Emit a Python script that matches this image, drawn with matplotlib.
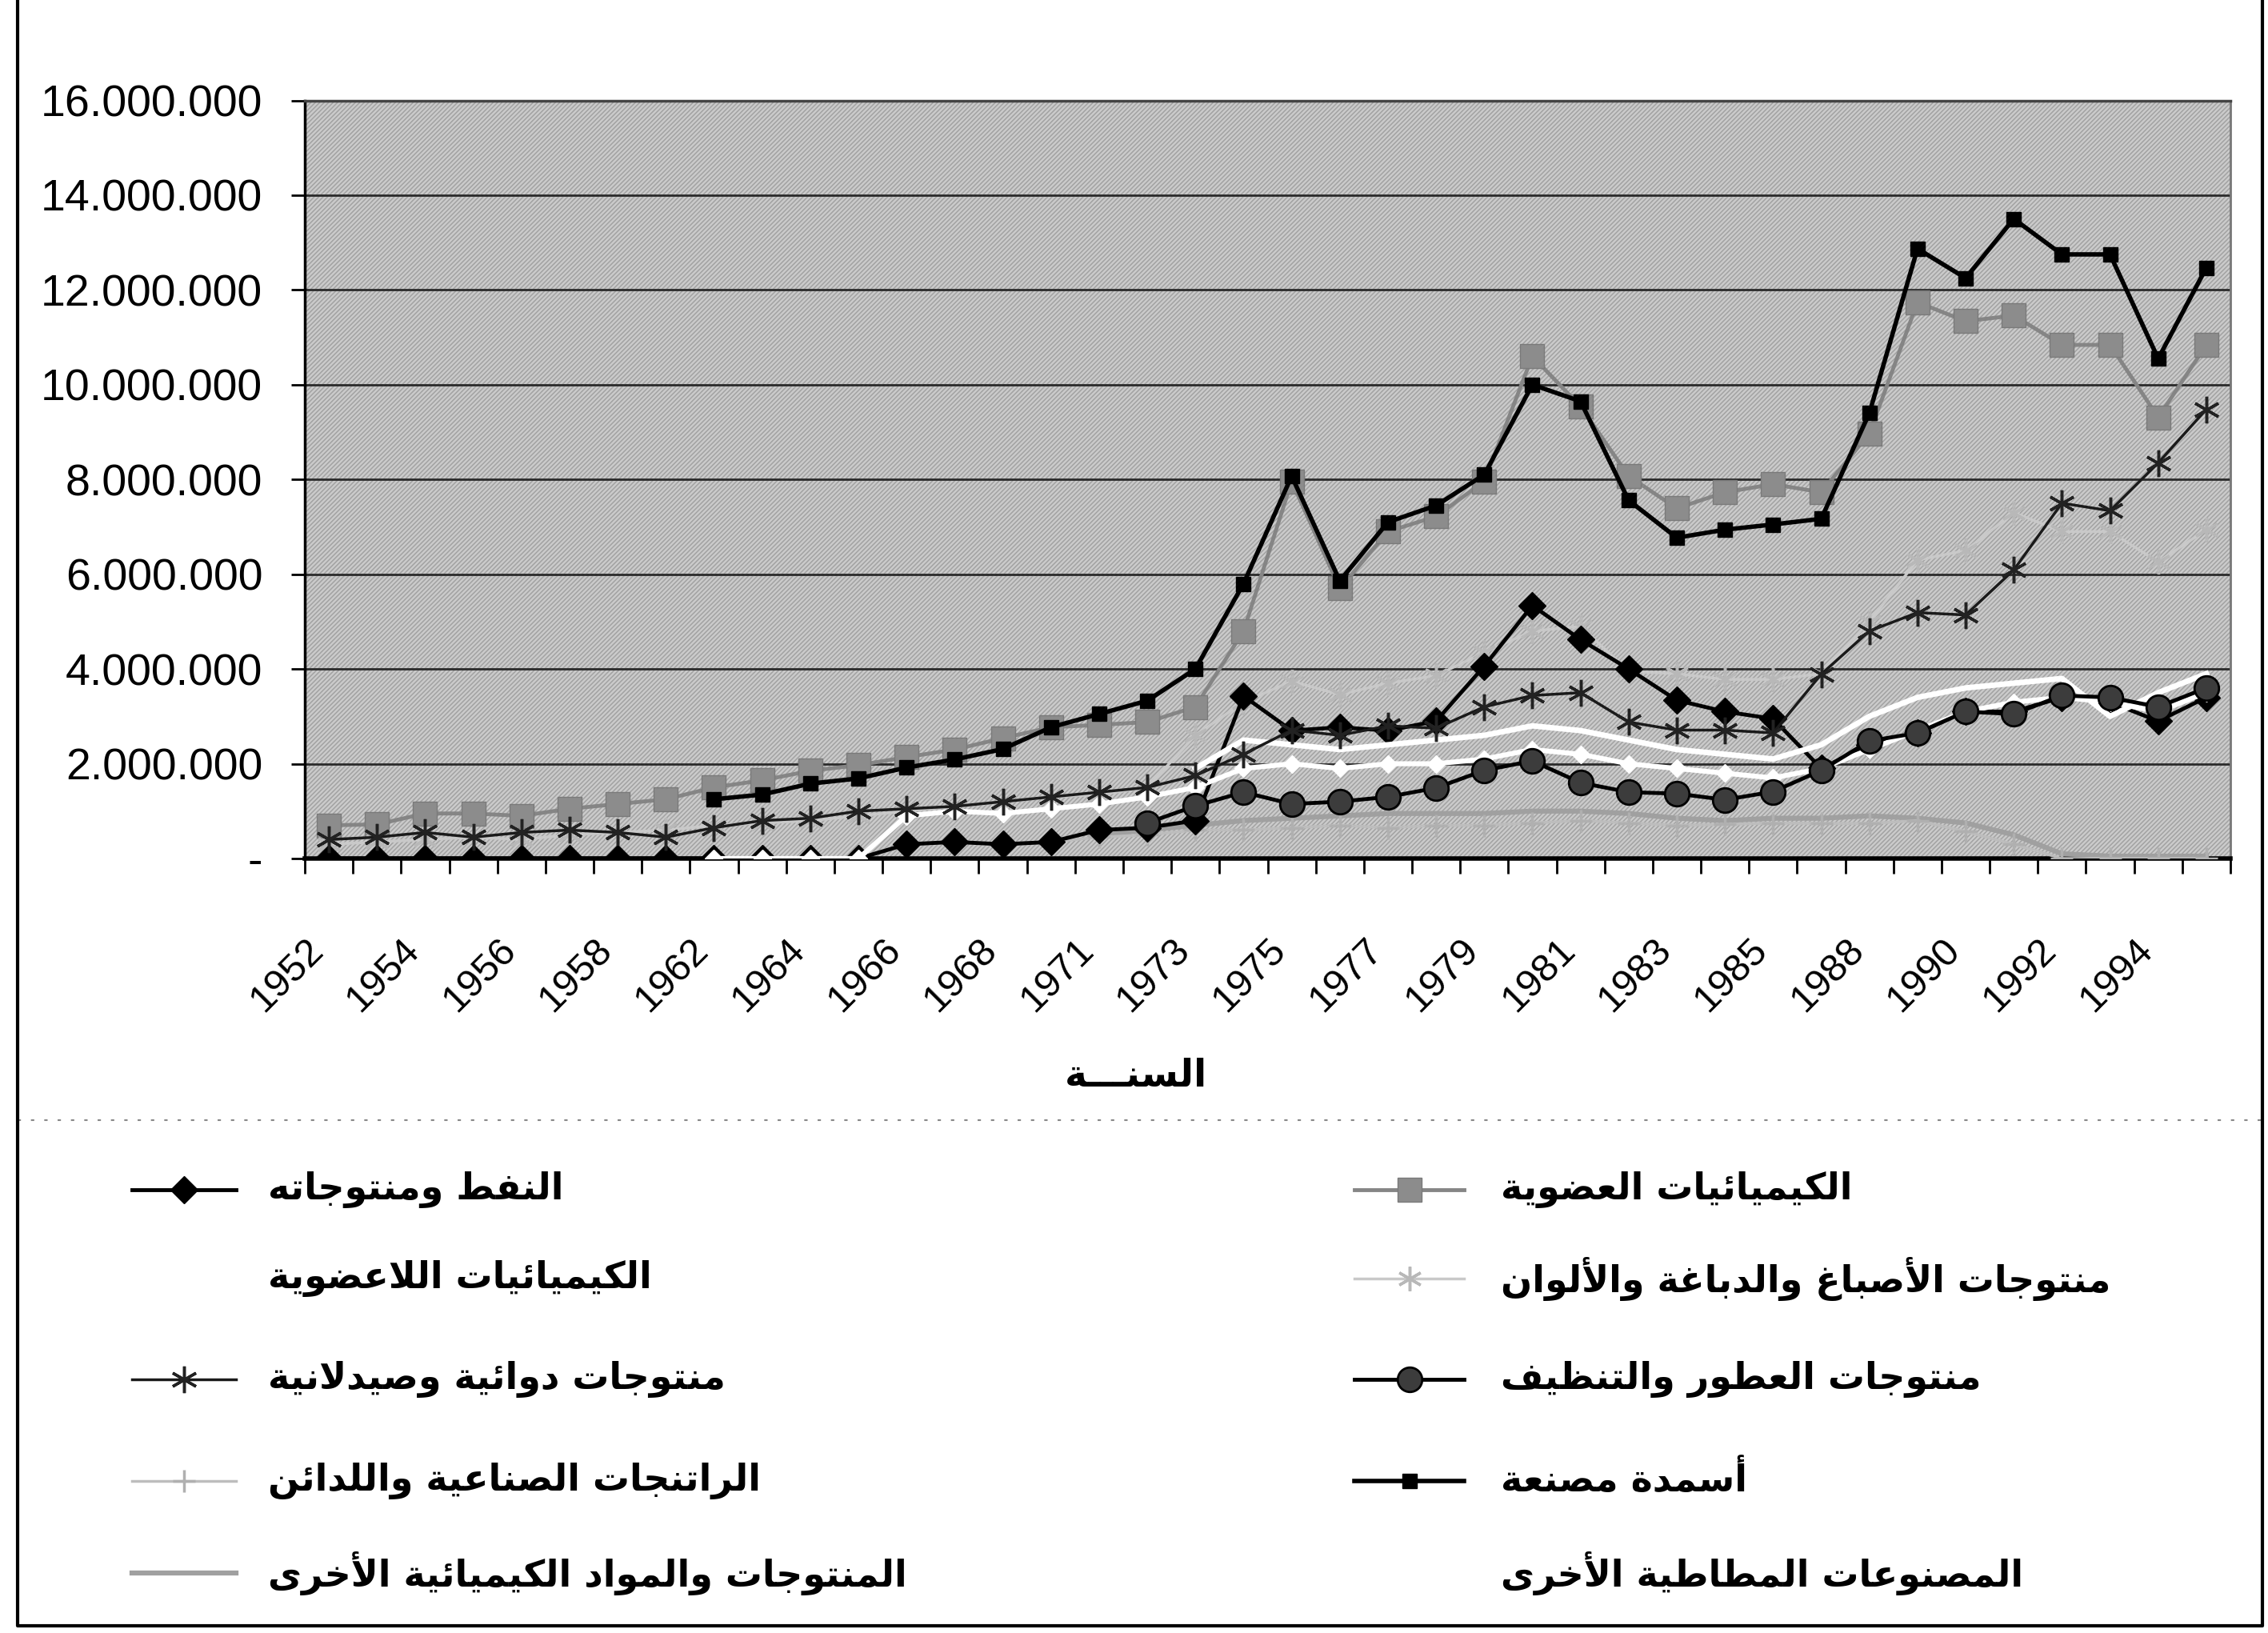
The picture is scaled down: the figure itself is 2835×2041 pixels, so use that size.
import numpy as np
import matplotlib
matplotlib.use("Agg")
import matplotlib.pyplot as plt
import matplotlib.transforms as mtransforms
from matplotlib.lines import Line2D
from matplotlib.patches import Rectangle
from matplotlib.ticker import FixedLocator, FuncFormatter

nan = np.nan

# ---------------- data (values in millions) ----------------
years = [1952, 1953, 1954, 1955, 1956, 1957, 1958, 1960, 1962, 1963,
         1964, 1965, 1966, 1967, 1968, 1970, 1971, 1972, 1973, 1974,
         1975, 1976, 1977, 1978, 1979, 1980, 1981, 1982, 1983, 1984,
         1985, 1986, 1988, 1989, 1990, 1991, 1992, 1993, 1994, 1995]

organic = [0.70, 0.72, 0.95, 0.95, 0.90, 1.05, 1.15, 1.25, 1.50, 1.65,
           1.85, 1.97, 2.14, 2.30, 2.54, 2.77, 2.82, 2.88, 3.20, 4.80,
           7.96, 5.70, 6.90, 7.22, 7.96, 10.60, 9.54, 8.07, 7.39, 7.73,
           7.90, 7.73, 8.97, 11.74, 11.34, 11.46, 10.84, 10.84, 9.31, 10.84]

fertilizer = [nan, nan, nan, nan, nan, nan, nan, nan, 1.25, 1.35,
              1.58, 1.69, 1.92, 2.09, 2.31, 2.77, 3.05, 3.33, 4.00, 5.80,
              8.07, 5.86, 7.10, 7.45, 8.10, 10.00, 9.65, 7.56, 6.77, 6.94,
              7.05, 7.17, 9.40, 12.87, 12.25, 13.50, 12.75, 12.75, 10.55, 12.47]

petroleum = [0.0, 0.0, 0.0, 0.0, 0.0, 0.0, 0.0, 0.0, 0.0, 0.0,
             0.0, 0.0, 0.30, 0.35, 0.30, 0.35, 0.60, 0.65, 0.80, 3.43,
             2.70, 2.77, 2.70, 2.90, 4.06, 5.34, 4.62, 4.00, 3.34, 3.10,
             2.95, 1.90, 2.40, 2.65, 3.10, 3.10, 3.40, 3.30, 2.90, 3.40]

pharma = [0.40, 0.45, 0.55, 0.45, 0.55, 0.60, 0.55, 0.45, 0.65, 0.80,
          0.85, 1.00, 1.05, 1.10, 1.20, 1.30, 1.40, 1.50, 1.75, 2.20,
          2.71, 2.60, 2.80, 2.75, 3.20, 3.44, 3.50, 2.88, 2.71, 2.71,
          2.65, 3.89, 4.80, 5.19, 5.14, 6.09, 7.50, 7.34, 8.35, 9.48]

dyes = [0.30, 0.35, 0.40, 0.45, 0.40, 0.50, 0.55, 0.60, 0.70, 0.75,
        0.80, 0.90, 1.00, 1.10, 1.20, 1.30, 1.35, 1.50, 2.60, 3.30,
        3.74, 3.46, 3.70, 3.86, 4.35, 4.80, 4.90, 3.95, 3.90, 3.78,
        3.78, 3.90, 5.00, 6.30, 6.50, 7.30, 6.90, 6.90, 6.26, 6.94]

perfume = [nan, nan, nan, nan, nan, nan, nan, nan, nan, nan,
           nan, nan, nan, nan, nan, nan, nan, 0.75, 1.11, 1.40,
           1.15, 1.20, 1.30, 1.49, 1.86, 2.06, 1.60, 1.40, 1.37, 1.24,
           1.41, 1.86, 2.48, 2.65, 3.10, 3.05, 3.44, 3.40, 3.20, 3.60]

resins = [nan, nan, nan, nan, nan, nan, nan, nan, nan, nan,
          nan, nan, nan, nan, 0.30, 0.35, 0.45, 0.50, 0.60, 0.60,
          0.65, 0.70, 0.65, 0.70, 0.70, 0.75, 0.80, 0.75, 0.70, 0.72,
          0.75, 0.74, 0.74, 0.80, 0.57, 0.30, 0.0, 0.0, 0.0, 0.0]

other = [nan, nan, nan, nan, nan, nan, nan, nan, nan, nan,
         nan, nan, nan, nan, nan, nan, 0.50, 0.60, 0.70, 0.80,
         0.85, 0.90, 0.95, 0.95, 0.95, 1.00, 1.00, 0.95, 0.85, 0.80,
         0.85, 0.85, 0.90, 0.85, 0.75, 0.50, 0.10, 0.05, 0.05, 0.05]

inorganic = [nan, nan, nan, nan, nan, nan, nan, nan, nan, nan,
             nan, nan, nan, nan, nan, nan, nan, nan, 1.90, 2.50,
             2.40, 2.30, 2.40, 2.50, 2.60, 2.80, 2.70, 2.50, 2.30, 2.20,
             2.10, 2.40, 3.00, 3.40, 3.60, 3.70, 3.80, 3.00, 3.50, 3.90]

rubber = [nan, nan, nan, nan, nan, nan, nan, nan, 0.0, 0.0,
          0.0, 0.0, 0.90, 1.00, 0.95, 1.05, 1.15, 1.30, 1.50, 1.90,
          2.00, 1.90, 2.00, 2.00, 2.10, 2.30, 2.20, 2.00, 1.90, 1.80,
          1.70, 1.90, 2.30, 2.70, 3.10, 3.30, 3.40, 3.30, 3.10, 3.50]

y_ticks = [0, 2, 4, 6, 8, 10, 12, 14, 16]

lab_petroleum = "النفط ومنتوجاته"
lab_inorganic = "الكيميائيات اللاعضوية"
lab_pharma = "منتوجات دوائية وصيدلانية"
lab_resins = "الراتنجات الصناعية واللدائن"
lab_other = "المنتوجات والمواد الكيميائية الأخرى"
lab_organic = "الكيميائيات العضوية"
lab_dyes = "منتوجات الأصباغ والدباغة والألوان"
lab_perfume = "منتوجات العطور والتنظيف"
lab_fertilizer = "أسمدة مصنعة"
lab_rubber = "المصنوعات المطاطية الأخرى"
x_title = "السنـــة"

# ---------------- Arabic shaping for display ----------------
_AR = {
    '\u0621': (0xFE80, 1), '\u0622': (0xFE81, 2), '\u0623': (0xFE83, 2), '\u0624': (0xFE85, 2),
    '\u0625': (0xFE87, 2), '\u0626': (0xFE89, 4), '\u0627': (0xFE8D, 2), '\u0628': (0xFE8F, 4),
    '\u0629': (0xFE93, 2), '\u062A': (0xFE95, 4), '\u062B': (0xFE99, 4), '\u062C': (0xFE9D, 4),
    '\u062D': (0xFEA1, 4), '\u062E': (0xFEA5, 4), '\u062F': (0xFEA9, 2), '\u0630': (0xFEAB, 2),
    '\u0631': (0xFEAD, 2), '\u0632': (0xFEAF, 2), '\u0633': (0xFEB1, 4), '\u0634': (0xFEB5, 4),
    '\u0635': (0xFEB9, 4), '\u0636': (0xFEBD, 4), '\u0637': (0xFEC1, 4), '\u0638': (0xFEC5, 4),
    '\u0639': (0xFEC9, 4), '\u063A': (0xFECD, 4), '\u0641': (0xFED1, 4), '\u0642': (0xFED5, 4),
    '\u0643': (0xFED9, 4), '\u0644': (0xFEDD, 4), '\u0645': (0xFEE1, 4), '\u0646': (0xFEE5, 4),
    '\u0647': (0xFEE9, 4), '\u0648': (0xFEED, 2), '\u0649': (0xFEEF, 2), '\u064A': (0xFEF1, 4),
}
_LAMALEF = {'\u0622': 0xFEF5, '\u0623': 0xFEF7, '\u0625': 0xFEF9, '\u0627': 0xFEFB}
_TATWEEL = '\u0640'


def shape(s):
    items = []
    i = 0
    while i < len(s):
        c = s[i]
        if c == '\u0644' and i + 1 < len(s) and s[i + 1] in _LAMALEF:
            items.append(('LA', _LAMALEF[s[i + 1]]))
            i += 2
            continue
        items.append(('C', c))
        i += 1

    def jt(it):
        if it[0] == 'LA':
            return 2
        c = it[1]
        if c == _TATWEEL:
            return 4
        if c in _AR:
            return _AR[c][1]
        return 0

    out = []
    n = len(items)
    for k, it in enumerate(items):
        t = jt(it)
        pj = k > 0 and jt(items[k - 1]) == 4 and t in (2, 4)
        nj = k + 1 < n and t == 4 and jt(items[k + 1]) in (2, 4)
        if it[0] == 'LA':
            out.append(chr(it[1] + (1 if pj else 0)))
            continue
        c = it[1]
        if t in (0, 1) or c == _TATWEEL:
            out.append(c)
            continue
        base = _AR[c][0]
        if t == 2:
            out.append(chr(base + (1 if pj else 0)))
        else:
            if pj and nj:
                out.append(chr(base + 3))
            elif pj:
                out.append(chr(base + 1))
            elif nj:
                out.append(chr(base + 2))
            else:
                out.append(chr(base))
    return ''.join(reversed(out))


# ---------------- figure ----------------
W, H = 2835, 2041
plt.rcParams['font.family'] = ['Liberation Sans', 'DejaVu Sans']
plt.rcParams['hatch.linewidth'] = 1.1
fig = plt.figure(figsize=(W / 100, H / 100), dpi=100)
fig.patch.set_facecolor('white')

L, R, T, B = 381, 2788, 125.5, 1073
ax = fig.add_axes([L / W, 1 - B / H, (R - L) / W, (B - T) / H])
ax.set_facecolor('#cbcbcb')
ax.add_patch(Rectangle((0, 0), 1, 1, transform=ax.transAxes, facecolor='none',
                       edgecolor='#a2a2a2', hatch='//////', lw=0, zorder=0))

x = np.arange(len(years))


def plot(vals, **kw):
    ax.plot(x, vals, **kw)


plot(organic, color='#858585', lw=3.5, marker='s', ms=21, mfc='#8c8c8c', mec='#7a7a7a', zorder=3)
plot(other, color='#a0a0a0', lw=4.5, zorder=3)
plot(resins, color='#bdbdbd', lw=2.5, marker='+', ms=20, mew=2.5, mec='#b0b0b0', zorder=3)
plot(dyes, color='#c9c9c9', lw=2.5, marker=(6, 2, 0), ms=22, mew=2.5, mec='#b8b8b8', zorder=3)
plot(petroleum, color='black', lw=3.5, marker='D', ms=17, mfc='black', mec='black', zorder=4)
plot(rubber, color='white', lw=4.5, marker='D', ms=11, mfc='white', mec='white', zorder=5)
plot(inorganic, color='white', lw=5, zorder=5)
plot(pharma, color='#1a1a1a', lw=2.5, marker=(6, 2, 0), ms=24, mew=2.5, mec='#222222', zorder=6)
plot(perfume, color='black', lw=3.5, marker='o', ms=22, mfc='#3c3c3c', mec='black', mew=2, zorder=6)
plot(fertilizer, color='black', lw=4, marker='s', ms=13, mfc='black', mec='black', zorder=7)

ax.set_xlim(-0.5, len(years) - 0.5)
ax.set_ylim(0, 16)

ax.set_yticks(y_ticks)
ax.yaxis.grid(True, color='#2a2a2a', lw=2.0, zorder=1)
ax.set_axisbelow(True)
ax.yaxis.set_major_formatter(FuncFormatter(
    lambda v, p: '-' if v == 0 else f"{int(round(v * 1e6)):,}".replace(',', '.')))
ax.tick_params(axis='y', labelsize=40, length=12, width=2, pad=26, direction='out')

ax.xaxis.set_major_locator(FixedLocator(x[::2]))
ax.set_xticklabels([str(y) for y in years[::2]], rotation=45, ha='right', va='top',
                   rotation_mode='anchor', fontsize=35)
ax.xaxis.set_minor_locator(FixedLocator(np.arange(-0.5, len(years), 1)))
ax.tick_params(axis='x', which='major', length=0, pad=66)
ax.tick_params(axis='x', which='minor', length=14, width=2, direction='out')
off = mtransforms.ScaledTranslation(-0.3, 0, fig.dpi_scale_trans)
for lbl in ax.get_xticklabels():
    lbl.set_transform(lbl.get_transform() + off)

ax.spines['left'].set_linewidth(2.5)
ax.spines['left'].set_color('black')
ax.spines['bottom'].set_linewidth(4)
ax.spines['bottom'].set_color('black')
ax.spines['top'].set_linewidth(2.5)
ax.spines['top'].set_color('#444444')
ax.spines['right'].set_linewidth(2)
ax.spines['right'].set_color('#777777')

# x title
fig.text(1420 / W, 1 - 1345 / H, shape(x_title), family=['DejaVu Sans'], fontweight='bold',
         fontsize=34, ha='center', va='center')

# separator line and outer frame
fig.add_artist(Line2D([22 / W, 2828 / W], [1 - 1400 / H, 1 - 1400 / H], color='#888888',
                      lw=1.5, ls=(0, (2, 6))))
fig.add_artist(Line2D([22 / W, 22 / W, 2828 / W, 2828 / W], [1.0, 1 - 2032 / H, 1 - 2032 / H, 1.0],
                      color='black', lw=3))

# legend (manual, two columns)
rows = [1487, 1598, 1724, 1851, 1966]
left_col = [
    (lab_petroleum, dict(color='black', lw=3.5, marker='D', ms=17, mfc='black', mec='black')),
    (lab_inorganic, dict(color='white', lw=5)),
    (lab_pharma, dict(color='#1a1a1a', lw=2.5, marker=(6, 2, 0), ms=24, mew=2.5, mec='#222222')),
    (lab_resins, dict(color='#bdbdbd', lw=2.5, marker='+', ms=20, mew=2.5, mec='#b0b0b0')),
    (lab_other, dict(color='#a0a0a0', lw=4.5)),
]
right_col = [
    (lab_organic, dict(color='#858585', lw=3.5, marker='s', ms=21, mfc='#8c8c8c', mec='#7a7a7a')),
    (lab_dyes, dict(color='#c9c9c9', lw=2.5, marker=(6, 2, 0), ms=22, mew=2.5, mec='#b8b8b8')),
    (lab_perfume, dict(color='black', lw=3.5, marker='o', ms=22, mfc='#3c3c3c', mec='black', mew=2)),
    (lab_fertilizer, dict(color='black', lw=4, marker='s', ms=13, mfc='black', mec='black')),
    (lab_rubber, dict(color='white', lw=4.5, marker='D', ms=11, mfc='white', mec='white')),
]
for (col, x0, x1, xt) in [(left_col, 165, 295, 335), (right_col, 1693, 1830, 1876)]:
    for (lab, st), yy in zip(col, rows):
        yf = 1 - yy / H
        kw = dict(st)
        mk = kw.pop('marker', None)
        fig.add_artist(Line2D([x0 / W, x1 / W], [yf, yf],
                              **{k: v for k, v in kw.items() if k in ('color', 'lw')}))
        if mk is not None:
            mkw = {k: v for k, v in kw.items() if k in ('ms', 'mfc', 'mec', 'mew')}
            fig.add_artist(Line2D([(x0 + x1) / 2 / W], [yf], marker=mk, ls='none', **mkw))
        fig.text(xt / W, yf, shape(lab), family=['DejaVu Sans'], fontweight='bold',
                 fontsize=33, ha='left', va='center')

fig.savefig('out.png', dpi=100, facecolor='white')
